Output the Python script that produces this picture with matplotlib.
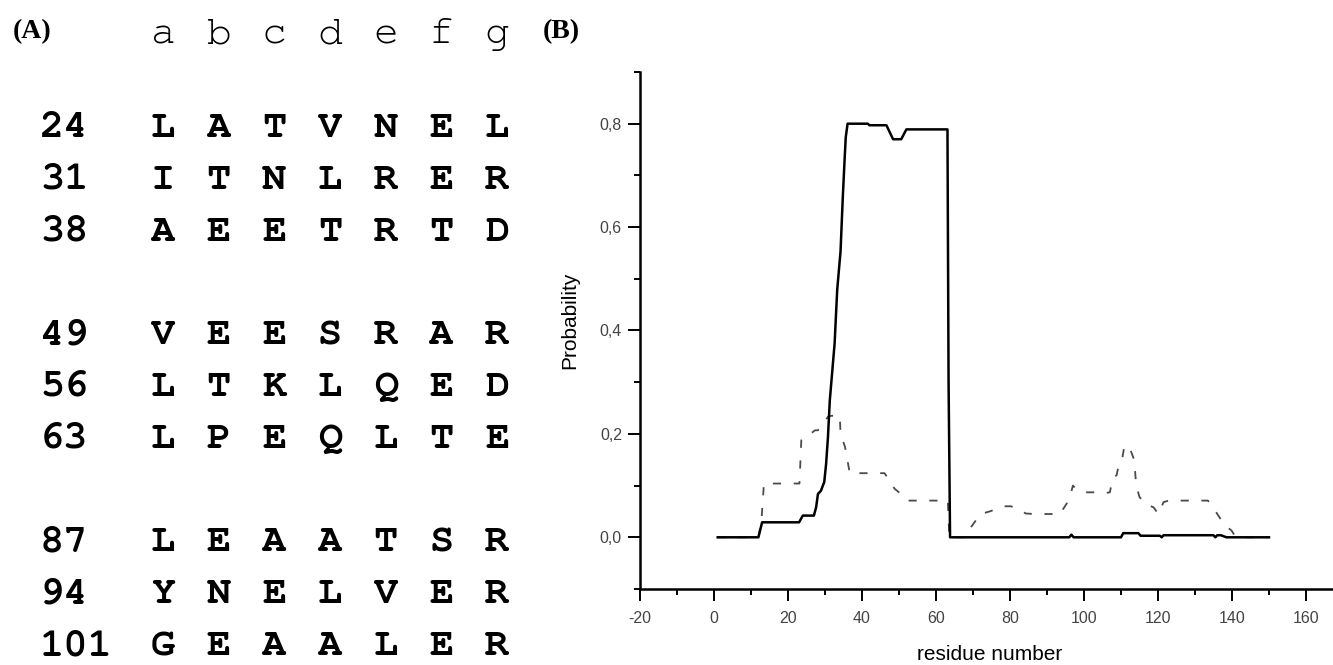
import matplotlib
matplotlib.use("Agg")
from matplotlib import pyplot as plt
from matplotlib import font_manager
from matplotlib.ticker import MultipleLocator, FuncFormatter

# ---- panel A: heptad table ----
heptad_pos = ["a", "b", "c", "d", "e", "f", "g"]
row_start = ["24", "31", "38", "49", "56", "63", "87", "94", "101"]
row_seq = ["LATVNEL", "ITNLRER", "AEETRTD",
           "VEESRAR", "LTKLQED", "LPEQLTE",
           "LEAATSR", "YNELVER", "GEAALER"]
row_slot = [0, 1, 2, 4, 5, 6, 8, 9, 10]   # blank line between groups

# ---- panel B: probability profiles ----
res_solid = [1, 12, 13, 23, 24, 27, 27.6, 28.1, 28.9, 29.8, 30.3, 30.8, 31.3,
             32.6, 33.3, 34.2, 34.8, 35.3, 35.6, 36.1, 41.6, 42, 46.6, 48.4,
             50.6, 52, 63.1, 63.4, 63.8, 96, 96.6, 97.2, 110, 110.6, 114.7,
             115.3, 120.5, 121, 121.5, 122, 135, 135.5, 136, 137, 138.5, 150]
prob_solid = [0, 0, 0.029, 0.029, 0.042, 0.042, 0.058, 0.084, 0.09, 0.107,
              0.142, 0.194, 0.265, 0.375, 0.479, 0.553, 0.656, 0.731, 0.773,
              0.80, 0.80, 0.797, 0.797, 0.77, 0.77, 0.789, 0.789, 0.3, 0.0,
              0, 0.005, 0, 0, 0.008, 0.008, 0.003, 0.003, 0, 0.004, 0.004,
              0.004, 0, 0.004, 0.004, 0, 0]

res_dash = [1, 12, 12.8, 13.5, 23.1, 23.6, 24.3, 27.3, 28.1, 30.8, 31.6, 34,
            34.2, 35.4, 36.7, 46.1, 47.9, 48.8, 51, 52.3, 63.2, 63.6, 68,
            69.5, 72, 74.5, 78.5, 80.3, 82.8, 84.3, 86.8, 93.5, 95.3, 96.1,
            97, 97.8, 100.5, 102.8, 105.2, 107, 107.7, 108.8, 109.5, 110.4,
            110.9, 112.2, 113.6, 114.1, 115, 116.4, 118.8, 120.1, 121.5,
            122.9, 133.5, 135.4, 136.3, 138.1, 139.9, 141, 150]
prob_dash = [0, 0, 0.03, 0.104, 0.104, 0.188, 0.19, 0.207, 0.207, 0.233,
             0.235, 0.235, 0.2, 0.175, 0.124, 0.124, 0.104, 0.094, 0.081,
             0.071, 0.071, 0, 0, 0.02, 0.045, 0.05, 0.06, 0.06, 0.052, 0.046,
             0.045, 0.045, 0.065, 0.075, 0.1, 0.094, 0.087, 0.087, 0.085,
             0.087, 0.113, 0.12, 0.143, 0.155, 0.176, 0.176, 0.149, 0.1,
             0.078, 0.065, 0.058, 0.045, 0.068, 0.071, 0.071, 0.052, 0.042,
             0.023, 0.013, 0, 0]


def pick_font(names):
    have = {f.name for f in font_manager.fontManager.ttflist}
    for n in names:
        if n in have:
            return n
    return "DejaVu Sans Mono"


mono = pick_font(["Courier New", "Nimbus Mono PS", "FreeMono", "Liberation Mono"])
serif = pick_font(["Times New Roman", "Liberation Serif", "DejaVu Serif"])
sans = pick_font(["Arial", "Liberation Sans", "DejaVu Sans"])

W, H = 1333, 665
fig = plt.figure(figsize=(W / 100, H / 100), dpi=100)


def fx(px):
    return px / W


def fy(py):
    return 1 - py / H


# panel letters
fig.text(fx(13), fy(38), "(A)", family=serif, weight="bold", fontsize=20,
         ha="left", va="baseline")
fig.text(fx(543), fy(38), "(B)", family=serif, weight="bold", fontsize=20,
         ha="left", va="baseline")

col_x0, col_dx = 163, 55.7
for i, p in enumerate(heptad_pos):
    fig.text(fx(col_x0 + col_dx * i), fy(43), p, family=mono, fontsize=30,
             ha="center", va="baseline")

for num, seq, slot in zip(row_start, row_seq, row_slot):
    base = 137 + 51.8 * slot
    fig.text(fx(40), fy(base), num, family=mono, weight="bold", fontsize=29,
             ha="left", va="baseline")
    for i, aa in enumerate(seq):
        fig.text(fx(col_x0 + col_dx * i), fy(base), aa, family=mono,
                 weight="bold", fontsize=29, ha="center", va="baseline")

# plot panel
ax = fig.add_axes([640 / W, 76 / H, 693 / W, 517 / H])
ax.plot(res_dash, prob_dash, color="#4a4a4a", lw=1.3, ls=(0, (4.5, 7)))
ax.plot(res_solid, prob_solid, color="black", lw=1.8)

ax.set_xlim(-20, 167.3)
ax.set_ylim(-0.1, 0.9)
ax.spines["top"].set_visible(False)
ax.spines["right"].set_visible(False)
for s in ("left", "bottom"):
    ax.spines[s].set_linewidth(1.8)

ax.xaxis.set_major_locator(MultipleLocator(20))
ax.xaxis.set_minor_locator(MultipleLocator(10))
ax.yaxis.set_major_locator(MultipleLocator(0.2))
ax.yaxis.set_minor_locator(MultipleLocator(0.1))
ax.yaxis.set_major_formatter(FuncFormatter(lambda v, p: f"{v:.1f}".replace(".", ",")))
ax.xaxis.set_major_formatter(FuncFormatter(lambda v, p: f"{v:.0f}"))

ax.tick_params(which="major", direction="out", length=8.5, width=1.4,
               labelsize=11.5, labelcolor="#444444")
ax.tick_params(which="minor", direction="out", length=4.3, width=1.4)
ax.tick_params(axis="x", which="major", pad=7)
ax.tick_params(axis="y", which="major", pad=4.5)
for lab in ax.get_xticklabels() + ax.get_yticklabels():
    lab.set_family(sans)

fig.text(fx(570), fy(320), "Probability", family=sans, fontsize=15,
         rotation=90, ha="center", va="center")
fig.text(fx(990), fy(654), "residue number", family=sans, fontsize=15,
         ha="center", va="center")

fig.savefig("out.png", dpi=100)
